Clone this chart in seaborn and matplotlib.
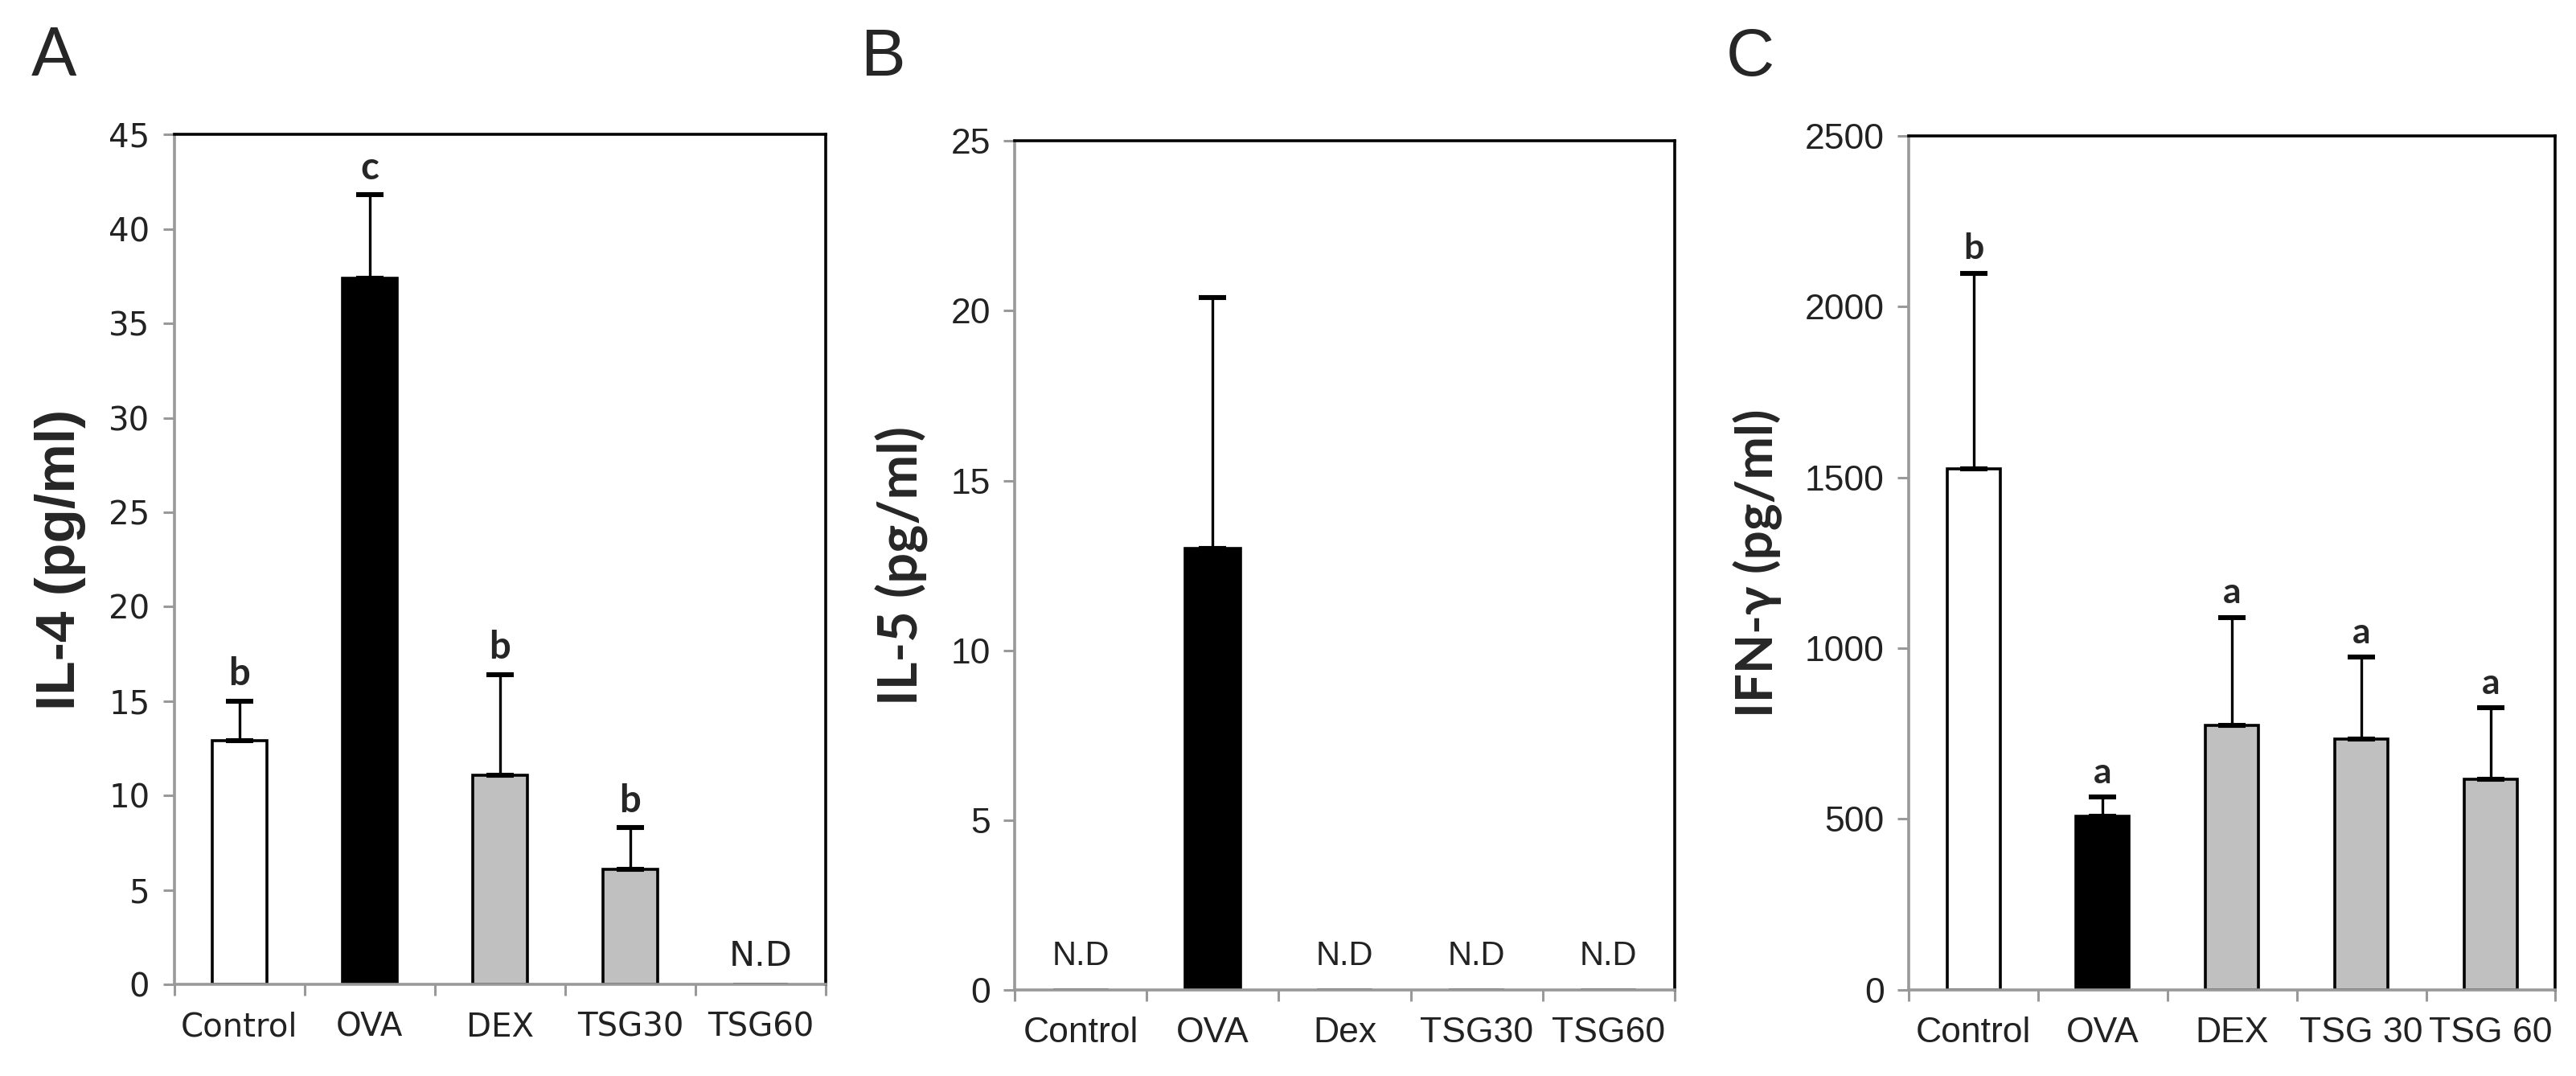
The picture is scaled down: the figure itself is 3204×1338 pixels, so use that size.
import numpy as np
import pandas as pd
import matplotlib
matplotlib.use("Agg")
import matplotlib.pyplot as plt
import seaborn as sns

# data
groups_a = ["Control", "OVA", "DEX", "TSG30", "TSG60"]
il4_mean = [12.9, 37.4, 11.1, 6.1, 0.0]
il4_sd = [2.1, 4.4, 5.3, 2.2, 0.0]
il4_letters = ["b", "c", "b", "b", ""]
il4_nd = [False, False, False, False, True]

groups_b = ["Control", "OVA", "Dex", "TSG30", "TSG60"]
il5_mean = [0.0, 13.0, 0.0, 0.0, 0.0]
il5_sd = [0.0, 7.4, 0.0, 0.0, 0.0]
il5_nd = [True, False, True, True, True]

groups_c = ["Control", "OVA", "DEX", "TSG 30", "TSG 60"]
ifng_mean = [1525, 508, 775, 734, 616]
ifng_sd = [572, 56, 315, 239, 209]
ifng_letters = ["b", "a", "a", "a", "a"]

bar_colors = ["white", "black", "#c0c0c0", "#c0c0c0", "#c0c0c0"]

sns.set_style("white")
plt.rcParams["font.family"] = ["Liberation Sans", "DejaVu Sans"]

fig = plt.figure(figsize=(16.02, 6.69), dpi=200)
ax_a = fig.add_axes([0.0677, 0.085, 0.2528, 0.79])
ax_b = fig.add_axes([0.394, 0.080, 0.256, 0.789])
ax_c = fig.add_axes([0.741, 0.080, 0.251, 0.794])


def draw_panel(ax, groups, means, sds, ymax, ystep, ylabel, tick_font, tick_size,
               label_font, label_size, width):
    df = pd.DataFrame({"group": groups, "value": means})
    sns.barplot(data=df, x="group", y="value", hue="group", palette=bar_colors,
                order=groups, hue_order=groups, legend=False, width=width,
                edgecolor="black", linewidth=1.3, errorbar=None, ax=ax)
    x = np.arange(len(groups))
    shown = [i for i in range(len(groups)) if means[i] > 0]
    ax.errorbar(x[shown], np.array(means)[shown],
                yerr=[np.zeros(len(shown)), np.array(sds)[shown]],
                fmt="none", ecolor="black", elinewidth=1.2, capsize=6, capthick=2.2)
    ax.set_xlim(-0.5, len(groups) - 0.5)
    ax.set_ylim(0, ymax)
    ax.set_yticks(np.arange(0, ymax + ystep / 2, ystep))
    ax.set_xticks(x)
    ax.set_xticks(np.arange(-0.5, len(groups)), minor=True)
    ax.tick_params(axis="x", which="major", length=0, pad=12, labelsize=tick_size,
                   labelcolor="#222222")
    ax.tick_params(axis="x", which="minor", length=5, width=1.1, color="#999999",
                   direction="out", bottom=True)
    ax.tick_params(axis="y", length=5, width=1.1, color="#999999", direction="out",
                   left=True, labelsize=tick_size, labelcolor="#222222", pad=6)
    for lab in ax.get_xticklabels() + ax.get_yticklabels():
        lab.set_family(tick_font)
    for side in ["left", "bottom"]:
        ax.spines[side].set_color("#999999")
        ax.spines[side].set_linewidth(1.3)
    for side in ["top", "right"]:
        ax.spines[side].set_color("black")
        ax.spines[side].set_linewidth(1.3)
    ax.set_xlabel("")
    ax.set_ylabel(ylabel, fontsize=label_size, fontweight="bold", family=label_font,
                  labelpad=10)


draw_panel(ax_a, groups_a, il4_mean, il4_sd, 45, 5, "IL-4 (pg/ml)",
           ["Liberation Sans Narrow", "DejaVu Sans"], 14.5,
           ["Liberation Sans", "DejaVu Sans"], 25, 0.42)
draw_panel(ax_b, groups_b, il5_mean, il5_sd, 25, 5, "IL-5 (pg/ml)",
           ["Liberation Sans", "DejaVu Sans"], 16,
           ["Lato", "DejaVu Sans"], 24, 0.42)
draw_panel(ax_c, groups_c, ifng_mean, ifng_sd, 2500, 500, "IFN-γ (pg/ml)",
           ["Liberation Sans", "DejaVu Sans"], 16,
           ["Lato", "DejaVu Sans"], 23, 0.41)

# significance letters
for i, (m, s, t) in enumerate(zip(il4_mean, il4_sd, il4_letters)):
    if t:
        ax_a.text(i, m + s + 0.5, t, ha="center", va="bottom", fontsize=17,
                  fontweight="bold", family=["Lato", "DejaVu Sans"])
for i, (m, s, t) in enumerate(zip(ifng_mean, ifng_sd, ifng_letters)):
    ax_c.text(i, m + s + 25, t, ha="center", va="bottom", fontsize=16,
              fontweight="bold", family=["Lato", "DejaVu Sans"])

# not detected labels
for i, nd in enumerate(il4_nd):
    if nd:
        ax_a.text(i, 1.5, "N.D", ha="center", va="center", fontsize=15.5,
                  color="#222222", family=["Liberation Sans Narrow", "DejaVu Sans"])
for i, nd in enumerate(il5_nd):
    if nd:
        ax_b.text(i, 1.0, "N.D", ha="center", va="center", fontsize=15,
                  color="#222222")

# panel letters
fig.text(0.012, 0.93, "A", fontsize=30, family=["Lato", "DejaVu Sans"], va="baseline")
fig.text(0.334, 0.93, "B", fontsize=30, va="baseline")
fig.text(0.670, 0.93, "C", fontsize=30, va="baseline")

fig.savefig("out.png", dpi=200)
